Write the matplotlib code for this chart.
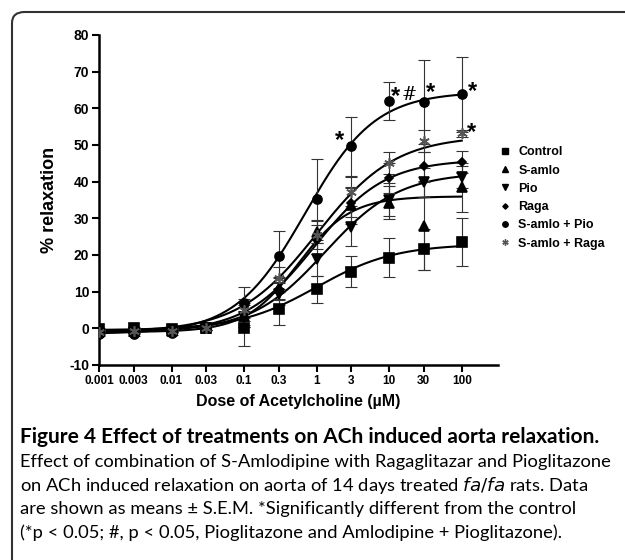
import numpy as np
import matplotlib
matplotlib.use("Agg")
import matplotlib.pyplot as plt
from matplotlib.patches import FancyBboxPatch
from matplotlib.lines import Line2D

doses = [0.001, 0.003, 0.01, 0.03, 0.1, 0.3, 1, 3, 10, 30, 100]
dose_labels = ["0.001", "0.003", "0.01", "0.03", "0.1", "0.3", "1", "3", "10", "30", "100"]

control = [-0.3, 0.0, -0.1, 0.0, 0.0, 5.3, 10.6, 15.5, 19.3, 21.5, 23.6]
control_err = [0.5, 0.5, 0.5, 0.5, 4.8, 4.5, 3.8, 4.3, 5.4, 5.7, 6.5]
s_amlo = [-1.0, -0.8, -0.6, 0.0, 3.5, 11.0, 26.3, 33.5, 34.3, 28.0, 38.5]
s_amlo_err = [0.5, 0.5, 0.5, 0.5, 3.0, 3.0, 3.0, 5.0, 4.5, 12.0, 6.7]
pio = [-1.2, -1.0, -0.8, 0.0, 3.0, 9.3, 18.8, 27.5, 35.0, 39.8, 41.4]
pio_err = [0.5, 0.5, 0.5, 0.5, 2.5, 3.0, 4.5, 5.0, 4.5, 4.0, 3.0]
raga = [-0.8, -0.6, -0.4, 0.0, 4.0, 10.6, 24.2, 34.3, 41.0, 44.2, 45.4]
raga_err = [0.5, 0.5, 0.5, 0.5, 3.0, 3.0, 4.0, 4.0, 4.0, 4.0, 3.0]
amlo_pio = [-1.5, -1.5, -1.2, 0.0, 7.0, 19.6, 35.2, 49.6, 62.0, 61.7, 63.8]
amlo_pio_err = [0.5, 0.5, 0.5, 0.5, 4.3, 7.0, 11.0, 8.0, 5.3, 11.5, 10.2]
amlo_raga = [-1.0, -0.8, -0.6, 0.0, 5.0, 13.6, 25.5, 37.3, 45.1, 51.0, 53.2]
amlo_raga_err = [0.5, 0.5, 0.5, 0.5, 3.0, 3.0, 4.0, 4.0, 3.0, 3.0, 1.0]

# fitted sigmoid params: bottom, top, EC50, hill
control_fit = (-0.5, 23.0, 1.0, 0.8)
s_amlo_fit = (-1.0, 36.0, 0.55, 1.2)
pio_fit = (-1.0, 42.5, 1.3, 0.85)
raga_fit = (-1.0, 46.0, 0.95, 0.9)
amlo_pio_fit = (-1.5, 64.5, 0.7, 0.9)
amlo_raga_fit = (-1.0, 52.5, 1.0, 0.8)

series = [
    ("Control", control, control_err, control_fit, "s", 6.5, "black"),
    ("S-amlo", s_amlo, s_amlo_err, s_amlo_fit, "^", 6.5, "black"),
    ("Pio", pio, pio_err, pio_fit, "v", 6.5, "black"),
    ("Raga", raga, raga_err, raga_fit, "D", 4.5, "black"),
    ("S-amlo + Pio", amlo_pio, amlo_pio_err, amlo_pio_fit, "o", 6.5, "black"),
    ("S-amlo + Raga", amlo_raga, amlo_raga_err, amlo_raga_fit, (6, 2, 0), 7.5, "#555555"),
]

# significance marks: text, dose, value, bold
marks = [("*", 2.09, 51.1, True), ("*", 12.2, 63.1, True), ("#", 18.8, 63.6, False),
         ("*", 37.4, 64.2, True), ("*", 141.6, 64.7, True), ("*", 137, 53.3, True)]


def sigmoid(x, p):
    bottom, top, ec50, hill = p
    return bottom + (top - bottom) / (1 + (ec50 / x) ** hill)


fig = plt.figure(figsize=(6.25, 5.6), dpi=100)
plt.rcParams['font.family'] = ['Liberation Sans', 'DejaVu Sans']

frame = FancyBboxPatch((12 / 625, -0.2), 1.2, 1.2 - 12 / 560,
                       boxstyle="round,pad=0,rounding_size=0.02",
                       transform=fig.transFigure, fill=False,
                       edgecolor="#333333", linewidth=1.5)
fig.patches.append(frame)

ax = fig.add_axes([99 / 625, 1 - 365 / 560, (498 - 99) / 625, (365 - 35) / 560])
xs = np.logspace(-3, 2, 300)
for name, vals, err, fit, mk, ms, col in series:
    ax.plot(xs, sigmoid(xs, fit), color="black", lw=1.5, zorder=2)
    ax.errorbar(doses, vals, yerr=err, fmt="none", ecolor="#333333",
                elinewidth=0.8, capsize=4, capthick=0.8, zorder=3)
    ax.plot(doses, vals, linestyle="none", marker=mk, markersize=ms,
            color=col, markeredgecolor=col, markeredgewidth=1.2, zorder=4)

for txt, x, y, bold in marks:
    if bold:
        ax.text(x, y, txt, fontsize=17, fontweight="bold", ha="center", va="center")
    else:
        ax.text(x, y, txt, fontsize=13, family="DejaVu Serif", ha="center", va="center")

ax.set_xscale("log")
ax.set_xlim(0.001, 316)
ax.set_ylim(-10, 80)
ax.set_xticks(doses)
ax.set_xticklabels(dose_labels, fontsize=8.5, fontweight="bold")
ax.minorticks_off()
ax.set_yticks(range(-10, 81, 10))
ax.set_yticklabels([str(v) for v in range(-10, 81, 10)], fontsize=10, fontweight="bold")
for s in ["top", "right"]:
    ax.spines[s].set_visible(False)
for s in ["left", "bottom"]:
    ax.spines[s].set_linewidth(1.8)
ax.tick_params(width=1.5, length=5, pad=2)
ax.set_xlabel("Dose of Acetylcholine (\u00b5M)", fontsize=11.5, fontweight="bold", labelpad=5)
ax.set_ylabel("% relaxation", fontsize=13, fontweight="bold", labelpad=8)

handles = [Line2D([], [], linestyle="none", marker=mk, markersize=ms * 0.6,
                  color=col, markeredgecolor=col) for name, vals, err, fit, mk, ms, col in series]
fig.legend(handles, [s[0] for s in series], loc="upper left",
           bbox_to_anchor=(487 / 625, 1 - 135 / 560), frameon=False,
           prop={"size": 9, "weight": "bold"}, handletextpad=0.6,
           labelspacing=0.5, handlelength=1.0)

cap_font = ['Lato', 'DejaVu Sans']
fig.text(20 / 625, 1 - 437 / 560, "Figure 4 Effect of treatments on ACh induced aorta relaxation.",
         fontsize=15, fontweight="bold", family=cap_font, va="center")
lines = [
    "Effect of combination of S-Amlodipine with Ragaglitazar and Pioglitazone",
    "on ACh induced relaxation on aorta of 14 days treated $\\it{fa/fa}$ rats. Data",
    "are shown as means \u00b1 S.E.M. *Significantly different from the control",
    "(*p < 0.05; #, p < 0.05, Pioglitazone and Amlodipine + Pioglitazone).",
]
for i, ln in enumerate(lines):
    fig.text(20 / 625, 1 - (462 + 23.5 * i) / 560, ln, fontsize=13.2, family=cap_font, va="center")

fig.savefig("out.png", dpi=100)
